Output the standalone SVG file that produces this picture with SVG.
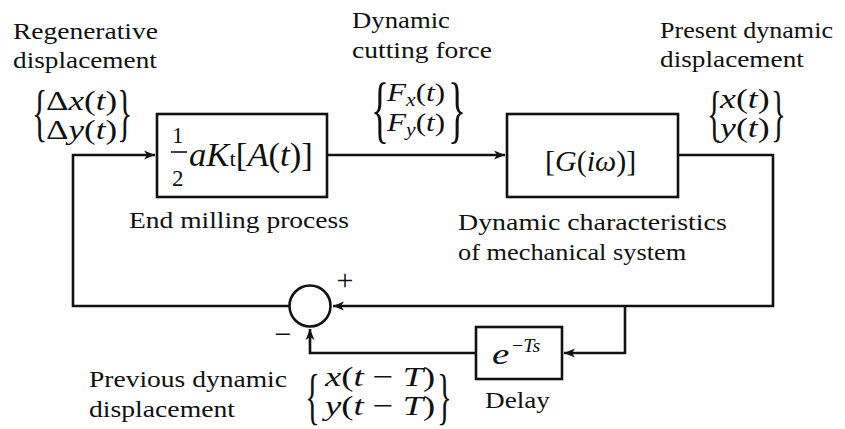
<svg xmlns="http://www.w3.org/2000/svg" width="845" height="429" viewBox="0 0 845 429">
<style>
text, tspan { font-family: "Liberation Serif", "Times New Roman", serif !important; }
text { fill: #111; }
.it { font-style: italic; }
.box { fill: #fff; stroke: #111; stroke-width: 2.6; }
.ln { fill: none; stroke: #111; stroke-width: 2.6; }
</style>
<defs>
<marker id="ah" markerWidth="12" markerHeight="10" refX="11" refY="5" orient="auto" markerUnits="userSpaceOnUse">
<path d="M0,0.5 L11,5 L0,9.5 L3,5 Z" fill="#111"/>
</marker>
</defs>

<g id="connectors">
<polyline class="ln" points="327,155 505,155" marker-end="url(#ah)"/>
<polyline class="ln" points="678,155 773,155 773,306 333,306" marker-end="url(#ah)"/>
<polyline class="ln" points="289,306 73,306 73,155 155,155" marker-end="url(#ah)"/>
<polyline class="ln" points="625,306 625,353 564,353" marker-end="url(#ah)"/>
<polyline class="ln" points="476,353 310,353 310,329" marker-end="url(#ah)"/>
</g>

<g id="process">
<rect class="box" x="157" y="114" width="170" height="83"/>
<text style="font-family:'Liberation Serif',serif !important" x="172" y="143" font-size="23">1</text>
<line x1="171" y1="152" x2="187" y2="152" stroke="#111" stroke-width="1.6"/>
<text style="font-family:'Liberation Serif',serif !important" x="172" y="186" font-size="23">2</text>
<text style="font-family:'Liberation Serif',serif !important" transform="translate(189,166) scale(1.05,1)" font-size="33"><tspan class="it">aK</tspan><tspan font-size="22">t</tspan>[<tspan class="it">A</tspan>(<tspan class="it">t</tspan>)]</text>
<text style="font-family:'Liberation Serif',serif !important" transform="translate(129,228) scale(1.146,1)" font-size="24">End milling process</text>
</g>

<g id="mechanical">
<rect class="box" x="507" y="114" width="171" height="83"/>
<text style="font-family:'Liberation Serif',serif !important" x="545" y="171" font-size="30">[<tspan class="it">G</tspan>(<tspan class="it">iω</tspan>)]</text>
<text style="font-family:'Liberation Serif',serif !important" transform="translate(458,230) scale(1.163,1)" font-size="24">Dynamic characteristics</text>
<text style="font-family:'Liberation Serif',serif !important" transform="translate(458,260) scale(1.098,1)" font-size="24">of mechanical system</text>
</g>

<g id="sum">
<circle cx="310" cy="306" r="20.5" fill="#fff" stroke="#111" stroke-width="2.6"/>
<text style="font-family:'Liberation Serif',serif !important" x="345" y="290" font-size="30" text-anchor="middle">+</text>
<text style="font-family:'Liberation Serif',serif !important" x="283" y="344" font-size="30" text-anchor="middle">−</text>
</g>

<g id="delay">
<rect class="box" x="476" y="327" width="86" height="52"/>
<text style="font-family:'Liberation Serif',serif !important" class="it" transform="translate(492,364) scale(1.3,1)" font-size="30">e</text>
<text style="font-family:'Liberation Serif',serif !important" transform="translate(512,352) scale(1.05,1)" font-size="19"><tspan>−</tspan><tspan class="it">Ts</tspan></text>
<text style="font-family:'Liberation Serif',serif !important" transform="translate(485,408) scale(1.134,1)" font-size="24">Delay</text>
</g>

<g id="label-regenerative">
<text style="font-family:'Liberation Serif',serif !important" transform="translate(13,39) scale(1.145,1)" font-size="24">Regenerative</text>
<text style="font-family:'Liberation Serif',serif !important" transform="translate(13,68) scale(1.137,1)" font-size="24">displacement</text>
<text style="font-family:'Liberation Serif',serif !important" transform="translate(32,134) scale(0.5,1)" font-size="64">{</text>
<text style="font-family:'Liberation Serif',serif !important" transform="translate(46,110) scale(1.25,1)" font-size="28">Δ<tspan class="it">x</tspan>(<tspan class="it">t</tspan>)</text>
<text style="font-family:'Liberation Serif',serif !important" transform="translate(46,139) scale(1.25,1)" font-size="28">Δ<tspan class="it">y</tspan>(<tspan class="it">t</tspan>)</text>
<text style="font-family:'Liberation Serif',serif !important" transform="translate(117,134) scale(0.5,1)" font-size="64">}</text>
</g>

<g id="label-force">
<text style="font-family:'Liberation Serif',serif !important" transform="translate(352,28) scale(1.114,1)" font-size="24">Dynamic</text>
<text style="font-family:'Liberation Serif',serif !important" transform="translate(352,58) scale(1.148,1)" font-size="24">cutting force</text>
<text style="font-family:'Liberation Serif',serif !important" transform="translate(371,134) scale(0.5,1)" font-size="75">{</text>
<text style="font-family:'Liberation Serif',serif !important" transform="translate(387,101) scale(1.2,1)" font-size="26"><tspan class="it">F</tspan><tspan class="it" font-size="18" dy="5">x</tspan><tspan dy="-5">(</tspan><tspan class="it">t</tspan>)</text>
<text style="font-family:'Liberation Serif',serif !important" transform="translate(387,131) scale(1.2,1)" font-size="26"><tspan class="it">F</tspan><tspan class="it" font-size="18" dy="5">y</tspan><tspan dy="-5">(</tspan><tspan class="it">t</tspan>)</text>
<text style="font-family:'Liberation Serif',serif !important" transform="translate(448,134) scale(0.5,1)" font-size="75">}</text>
</g>

<g id="label-present">
<text style="font-family:'Liberation Serif',serif !important" transform="translate(660,38) scale(1.086,1)" font-size="24">Present dynamic</text>
<text style="font-family:'Liberation Serif',serif !important" transform="translate(660,67) scale(1.137,1)" font-size="24">displacement</text>
<text style="font-family:'Liberation Serif',serif !important" transform="translate(707,134) scale(0.5,1)" font-size="62">{</text>
<text style="font-family:'Liberation Serif',serif !important" transform="translate(720,108) scale(1.28,1)" font-size="28"><tspan class="it">x</tspan>(<tspan class="it">t</tspan>)</text>
<text style="font-family:'Liberation Serif',serif !important" transform="translate(720,137) scale(1.28,1)" font-size="28"><tspan class="it">y</tspan>(<tspan class="it">t</tspan>)</text>
<text style="font-family:'Liberation Serif',serif !important" transform="translate(771,134) scale(0.5,1)" font-size="62">}</text>
</g>

<g id="label-previous">
<text style="font-family:'Liberation Serif',serif !important" transform="translate(89,387) scale(1.147,1)" font-size="24">Previous dynamic</text>
<text style="font-family:'Liberation Serif',serif !important" transform="translate(89,417) scale(1.153,1)" font-size="24">displacement</text>
<text style="font-family:'Liberation Serif',serif !important" transform="translate(305,417) scale(0.5,1)" font-size="62">{</text>
<text style="font-family:'Liberation Serif',serif !important" transform="translate(325,386) scale(1.31,1)" font-size="28"><tspan class="it">x</tspan>(<tspan class="it">t</tspan> − <tspan class="it">T</tspan>)</text>
<text style="font-family:'Liberation Serif',serif !important" transform="translate(325,415) scale(1.31,1)" font-size="28"><tspan class="it">y</tspan>(<tspan class="it">t</tspan> − <tspan class="it">T</tspan>)</text>
<text style="font-family:'Liberation Serif',serif !important" transform="translate(437,417) scale(0.5,1)" font-size="62">}</text>
</g>
</svg>
